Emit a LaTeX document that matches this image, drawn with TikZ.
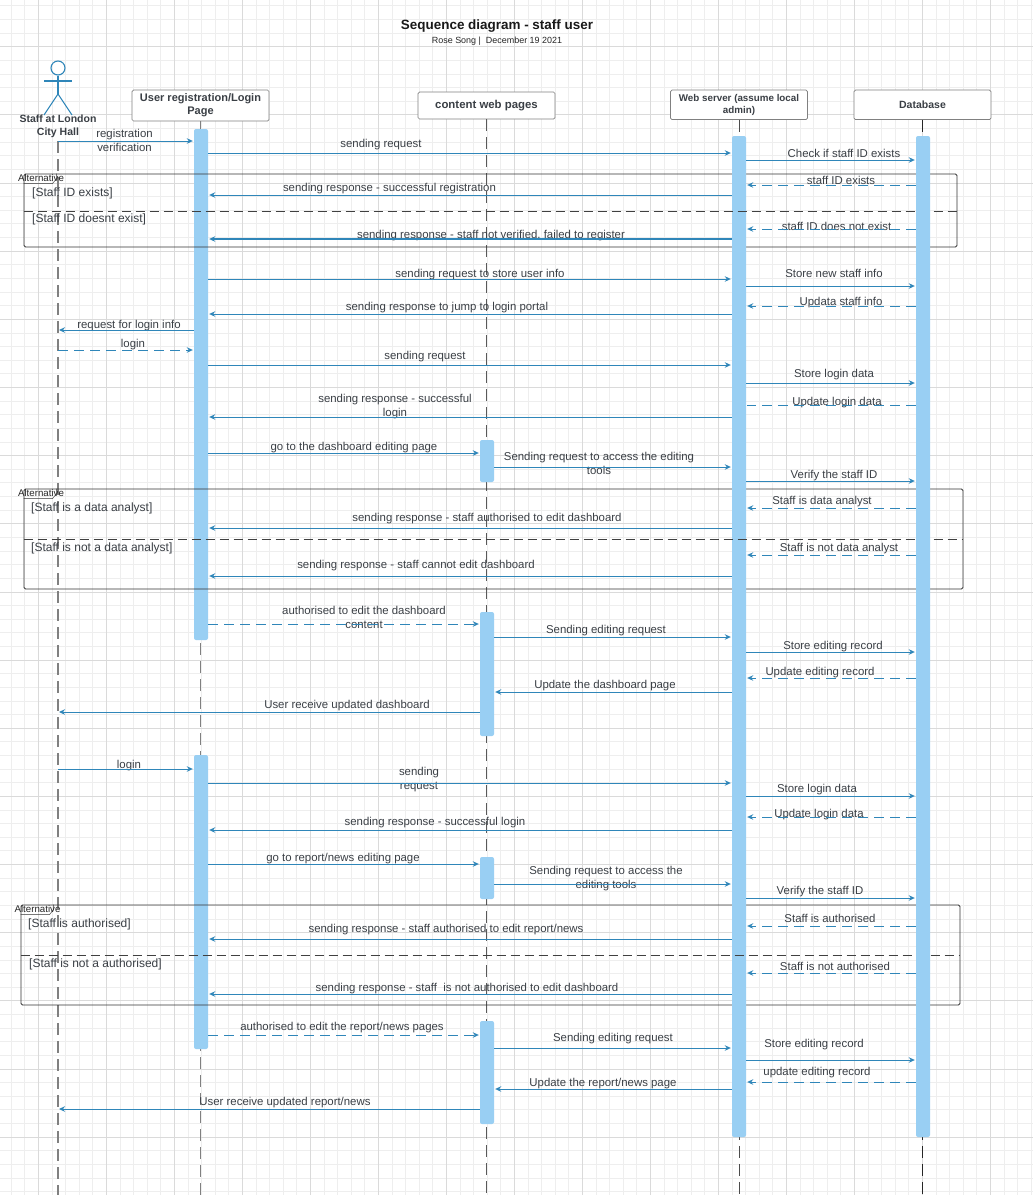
\documentclass[tikz,border=0pt]{standalone}
\usepackage{fontspec}
\setmainfont{Liberation Sans}
\usetikzlibrary{arrows.meta,shapes.geometric}
\definecolor{gridlo}{HTML}{EEEEEE}
\definecolor{gridhi}{HTML}{DADADA}
\definecolor{barblue}{HTML}{99CFF3}
\definecolor{msgblue}{HTML}{2F86B9}
\definecolor{labgray}{HTML}{3A3F45}
\tikzset{
  x=1pt,y=-1pt,
  head/.style={draw=black!50,line width=.7pt,fill=white,rounded corners=1.5pt,minimum width=137pt,align=center,inner sep=0pt,text=labgray,font=\fontsize{11}{13}\selectfont\bfseries},
  bar/.style={fill=barblue,rounded corners=2pt,minimum width=14pt,inner sep=0pt},
  lab/.style={text=labgray,align=center,inner sep=0pt,yshift=-1.2pt,font=\fontsize{11.4}{14}\selectfont},
  guard/.style={text=labgray,anchor=west,inner sep=0pt,yshift=-.8pt,font=\fontsize{12}{14}\selectfont},
  alt/.style={draw=black!80,line width=.9pt,rounded corners=1.5pt,inner sep=0pt,minimum width=#1},
  sep/.style={draw=black!75,thick,dash pattern=on 9pt off 5pt},
  life/.style={dash pattern=on 12pt off 6pt},
  msg/.style={-{Stealth[length=6pt,width=5.5pt]},draw=msgblue,line width=1pt,shorten >=1pt},
  ret/.style={msg,dash pattern=on 10pt off 6pt},
}
\begin{document}
\begin{tikzpicture}
\useasboundingbox (0,0) rectangle (1033,1195);
\fill[white] (0,0) rectangle (1033,1195);
\coordinate (bottom) at (0,1195);

% background grid
\foreach \i in {1,...,76}
  \draw[gridlo,line width=.8pt] (\i*13.6-2.5,0) -- (\i*13.6-2.5,1195);
\foreach \i in {0,...,87}
  \draw[gridlo,line width=.8pt] (0,\i*13.63+5.8) -- (1033,\i*13.63+5.8);
\foreach \i in {0,...,14}
  \draw[gridhi,line width=.8pt] (\i*68+38.3,0) -- (\i*68+38.3,1195);
\foreach \i in {0,...,16}
  \draw[gridhi,line width=.8pt] (0,\i*68.15+46.7) -- (1033,\i*68.15+46.7);

\node[inner sep=0pt,font=\fontsize{13.45}{15}\selectfont\bfseries,text=black!90](title) at (497,26.5) {Sequence diagram - staff user};
\node[inner sep=0pt,font=\fontsize{8.95}{10}\selectfont,text=black!85](sub) at (497,41) {Rose Song |\ \ December 19 2021};

% actor
\node[circle,draw=msgblue,line width=1.1pt,minimum size=14pt,inner sep=0pt](actor) at (58,68) {};
\coordinate (hip) at (58,94);
\draw[msgblue,line width=1.1pt] (actor.south) -- (hip);
\draw[msgblue,line width=1.1pt] (44,81) -- (72,81);
\draw[msgblue,line width=1.1pt] (44,115) -- (hip) -- (72,115);
\node[inner sep=0pt,align=center,text=labgray,font=\fontsize{10.5}{13}\selectfont\bfseries](actorname) at (58,126.5) {Staff at London\\City Hall};

% heads
\node[head,minimum height=31pt](login) at (200.5,105.5) {User registration/Login\\Page};
\node[head,minimum height=27pt,font=\fontsize{11.4}{13}\selectfont\bfseries](content) at (486.5,105.5) {content web pages};
\node[head,minimum height=29.5pt,font=\fontsize{9.8}{12}\selectfont\bfseries](web) at (739,104.8) {Web server (assume local\\admin)};
\node[head,minimum height=29.5pt,font=\fontsize{10.5}{12}\selectfont\bfseries](database) at (922.5,104.8) {Database};

% lifelines
\draw[life,black!50,line width=1.3pt] (58,141) -- (58,1195);
\draw[life,black!50,line width=1.3pt] (login.south) -- (login.south |- bottom);
\draw[life,black!65,line width=1pt] (content.south) -- (content.south |- bottom);
\draw[life,black!70,line width=.9pt] (web.south) -- (web.south |- bottom);
\draw[life,black!85,line width=.9pt] (database.south) -- (database.south |- bottom);

% activation bars
\node[bar,minimum height=511pt](lb1) at (201,384.5) {};
\node[bar,minimum height=294pt](lb2) at (201,902) {};

% alternative frames
\node[alt=933pt,minimum height=73pt](alt1) at (490.5,210.5) {};
\node[alt=939pt,minimum height=100pt](alt2) at (493.5,539) {};
\node[alt=939pt,minimum height=100pt](alt3) at (490.5,955) {};
\draw[black!80] (alt1.north west) ++(0,10) -- ++(29,0) -- ++(4,-5) -- ++(0,-5);
\draw[black!80] (alt2.north west) ++(0,10) -- ++(29,0) -- ++(4,-5) -- ++(0,-5);
\draw[black!80] (alt3.north west) ++(0,10) -- ++(29,0) -- ++(4,-5) -- ++(0,-5);
\node[inner sep=0pt,font=\fontsize{9.7}{10}\selectfont,text=black!85](t1) at (41,178.5) {Alternative};
\node[inner sep=0pt,font=\fontsize{9.7}{10}\selectfont,text=black!85](t2) at (41,493.5) {Alternative};
\node[inner sep=0pt,font=\fontsize{9.7}{10}\selectfont,text=black!85](t3) at (37.5,909.5) {Alternative};

\node[bar,minimum height=1001pt](wb) at (739,636.5) {};
\draw[sep] (alt1.west |- 0,211) -- (alt1.east |- 0,211);
\draw[sep] (alt2.west |- 0,539) -- (alt2.east |- 0,539);
\draw[sep] (alt3.west |- 0,955) -- (alt3.east |- 0,955);
\node[bar,minimum height=1001pt](db) at (923,636.5) {};
\node[bar,minimum height=42pt](cb1) at (487,461) {};
\node[bar,minimum height=124pt](cb2) at (487,674) {};
\node[bar,minimum height=42pt](cb3) at (487,878) {};
\node[bar,minimum height=103pt](cb4) at (487,1072.5) {};

\node[guard](g1) at (32,192.5) {[Staff ID exists]};
\node[guard](g2) at (32,218.5) {[Staff ID doesnt exist]};
\node[guard](g3) at (31,507.5) {[Staff is a data analyst]};
\node[guard](g4) at (31,547.5) {[Staff is not a data analyst]};
\node[guard](g5) at (28,923.5) {[Staff is authorised]};
\node[guard](g6) at (29,963.5) {[Staff is not a authorised]};

% messages
\node[lab](m1) at (124.5,139) {registration\\verification};
\draw[msg] (actor |- 0,141) -- (lb1.west |- 0,141);
\node[lab](m2) at (381,143) {sending request};
\draw[msg] (lb1.east |- 0,153) -- (wb.west |- 0,153);
\node[lab](m3) at (844,152) {Check if staff ID exists};
\draw[msg] (wb.east |- 0,160) -- (db.west |- 0,160);
\node[lab](m4) at (841,179) {staff ID exists};
\draw[ret] (db.west |- 0,185) -- (wb.east |- 0,185);
\node[lab](m5) at (389.5,187) {sending response - successful registration};
\draw[msg] (wb.west |- 0,195) -- (lb1.east |- 0,195);
\node[lab](m6) at (836.5,225) {staff ID does not exist};
\draw[ret] (db.west |- 0,229) -- (wb.east |- 0,229);
\node[lab](m7) at (491,234) {sending response - staff not verified, failed to register};
\draw[msg,line width=1.4pt] (wb.west |- 0,239) -- (lb1.east |- 0,239);
\node[lab](m8) at (480,273) {sending request to store user info};
\draw[msg] (lb1.east |- 0,279) -- (wb.west |- 0,279);
\node[lab](m9) at (834,272) {Store new staff info};
\draw[msg] (wb.east |- 0,286) -- (db.west |- 0,286);
\node[lab](m10) at (841,301) {Updata staff info};
\draw[ret] (db.west |- 0,306) -- (wb.east |- 0,306);
\node[lab](m11) at (447,306) {sending response to jump to login portal};
\draw[msg] (wb.west |- 0,314) -- (lb1.east |- 0,314);
\node[lab](m12) at (129,324) {request for login info};
\draw[msg] (lb1.west |- 0,330) -- (actor |- 0,330);
\node[lab](m13) at (133,343) {login};
\draw[ret] (actor |- 0,350) -- (lb1.west |- 0,350);
\node[lab](m14) at (425,355) {sending request};
\draw[msg] (lb1.east |- 0,365) -- (wb.west |- 0,365);
\node[lab](m15) at (834,373) {Store login data};
\draw[msg] (wb.east |- 0,383) -- (db.west |- 0,383);
\node[lab](m16) at (837,401) {Update login data};
\draw[ret,-] (db.west |- 0,405) -- (wb.east |- 0,405);
\node[lab](m17) at (395,405) {sending response - successful\\login};
\draw[msg] (wb.west |- 0,417) -- (lb1.east |- 0,417);
\node[lab](m18) at (354,446) {go to the dashboard editing page};
\draw[msg] (lb1.east |- 0,453) -- (cb1.west |- 0,453);
\node[lab](m19) at (599,462) {Sending request to access the editing\\tools};
\draw[msg] (cb1.east |- 0,467) -- (wb.west |- 0,467);
\node[lab](m20) at (834,474) {Verify the staff ID};
\draw[msg] (wb.east |- 0,481) -- (db.west |- 0,481);
\node[lab](m21) at (822,500) {Staff is data analyst};
\draw[ret] (db.west |- 0,508) -- (wb.east |- 0,508);
\node[lab](m22) at (487,517) {sending response - staff authorised to edit dashboard};
\draw[msg] (wb.west |- 0,528) -- (lb1.east |- 0,528);
\node[lab](m23) at (839,547) {Staff is not data analyst};
\draw[ret] (db.west |- 0,555) -- (wb.east |- 0,555);
\node[lab](m24) at (416,564) {sending response - staff cannot edit dashboard};
\draw[msg] (wb.west |- 0,576) -- (lb1.east |- 0,576);
\node[lab](m25) at (364,616) {authorised to edit the dashboard\\content};
\draw[ret] (lb1.east |- 0,624) -- (cb2.west |- 0,624);
\node[lab](m26) at (606,629) {Sending editing request};
\draw[msg] (cb2.east |- 0,637) -- (wb.west |- 0,637);
\node[lab](m27) at (833,645) {Store editing record};
\draw[msg] (wb.east |- 0,652) -- (db.west |- 0,652);
\node[lab](m28) at (820,671) {Update editing record};
\draw[ret] (db.west |- 0,678) -- (wb.east |- 0,678);
\node[lab](m29) at (605,684) {Update the dashboard page};
\draw[msg] (wb.west |- 0,692) -- (cb2.east |- 0,692);
\node[lab](m30) at (347,704) {User receive updated dashboard};
\draw[msg] (cb2.west |- 0,712) -- (actor |- 0,712);
\node[lab](m31) at (129,764) {login};
\draw[msg] (actor |- 0,769) -- (lb2.west |- 0,769);
\node[lab](m32) at (419,778) {sending\\request};
\draw[msg] (lb2.east |- 0,783) -- (wb.west |- 0,783);
\node[lab](m33) at (817,788) {Store login data};
\draw[msg] (wb.east |- 0,796) -- (db.west |- 0,796);
\node[lab](m34) at (819,813) {Update login data};
\draw[ret] (db.west |- 0,817) -- (wb.east |- 0,817);
\node[lab](m35) at (435,821) {sending response - successful login};
\draw[msg] (wb.west |- 0,830) -- (lb2.east |- 0,830);
\node[lab](m36) at (343,857) {go to report/news editing page};
\draw[msg] (lb2.east |- 0,864) -- (cb3.west |- 0,864);
\node[lab](m37) at (606,877) {Sending request to access the\\editing tools};
\draw[msg] (cb3.east |- 0,884) -- (wb.west |- 0,884);
\node[lab](m38) at (820,890) {Verify the staff ID};
\draw[msg] (wb.east |- 0,898) -- (db.west |- 0,898);
\node[lab](m39) at (830,917) {Staff is authorised};
\draw[ret] (db.west |- 0,926) -- (wb.east |- 0,926);
\node[lab](m40) at (446,928) {sending response - staff authorised to edit report/news};
\draw[msg] (wb.west |- 0,939) -- (lb2.east |- 0,939);
\node[lab](m41) at (835,965) {Staff is not authorised};
\draw[ret] (db.west |- 0,973) -- (wb.east |- 0,973);
\node[lab](m42) at (467,987) {sending response - staff\ \ is not authorised to edit dashboard};
\draw[msg] (wb.west |- 0,994) -- (lb2.east |- 0,994);
\node[lab](m43) at (342,1026) {authorised to edit the report/news pages};
\draw[ret] (lb2.east |- 0,1035) -- (cb4.west |- 0,1035);
\node[lab](m44) at (613,1037) {Sending editing request};
\draw[msg] (cb4.east |- 0,1048) -- (wb.west |- 0,1048);
\node[lab](m45) at (814,1043) {Store editing record};
\draw[msg] (wb.east |- 0,1060) -- (db.west |- 0,1060);
\node[lab](m46) at (817,1071) {update editing record};
\draw[ret] (db.west |- 0,1082) -- (wb.east |- 0,1082);
\node[lab](m47) at (603,1082) {Update the report/news page};
\draw[msg] (wb.west |- 0,1089) -- (cb4.east |- 0,1089);
\node[lab](m48) at (285,1101) {User receive updated report/news};
\draw[msg] (cb4.west |- 0,1109) -- (actor |- 0,1109);
\end{tikzpicture}
\end{document}
